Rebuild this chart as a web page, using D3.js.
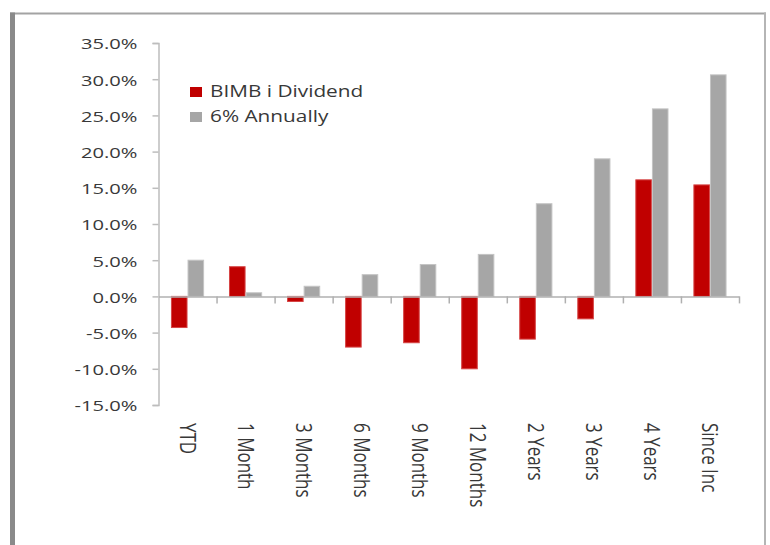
<!DOCTYPE html>
<html>
<head>
<meta charset="utf-8">
<script src="https://cdn.jsdelivr.net/npm/d3@7"></script>
<style>
  body { margin: 0; background: #fff; }
  text { font-family: "Open Sans", sans-serif; fill: #383838; }
</style>
</head>
<body>
<div id="chart"></div>
<script>
var categories = ["YTD", "1 Month", "3 Months", "6 Months", "9 Months",
                  "12 Months", "2 Years", "3 Years", "4 Years", "Since Inc"];
var seriesNames = ["BIMB i Dividend", "6% Annually"];
var bimbDividend = [-4.3, 4.1, -0.7, -7.0, -6.4, -10.0, -5.9, -3.1, 16.1, 15.4];
var sixAnnually = [5.0, 0.5, 1.4, 3.0, 4.4, 5.8, 12.8, 19.0, 25.9, 30.6];
var yTicks = [-15, -10, -5, 0, 5, 10, 15, 20, 25, 30, 35];

var width = 770,
    height = 545,
    plot = {left: 158.5, right: 739, top: 43, bottom: 405},
    color = ["#c00000", "#a6a6a6"],
    edge = ["#d64545", "#c4c4c4"];

var rows = categories.map(function(c, i) {
  return {cat: c, values: [bimbDividend[i], sixAnnually[i]]};
});

var svg = d3.select("#chart").append("svg")
    .attr("width", width)
    .attr("height", height);

// outer frame of the pasted chart
svg.append("line").attr("x1", 10).attr("x2", 766).attr("y1", 13.5).attr("y2", 13.5)
    .attr("stroke", "#a3a3a3").attr("stroke-width", 2);
svg.append("line").attr("x1", 12.5).attr("x2", 12.5).attr("y1", 12.5).attr("y2", height)
    .attr("stroke", "#8a8a8a").attr("stroke-width", 5);
svg.append("line").attr("x1", 765).attr("x2", 765).attr("y1", 12.5).attr("y2", height)
    .attr("stroke", "#b5b5b5").attr("stroke-width", 2);

var x = d3.scaleBand()
    .domain(categories)
    .range([plot.left, plot.right]);

var xs = d3.scaleBand()
    .domain(seriesNames)
    .range([0, x.bandwidth()])
    .paddingOuter(0.75);

var xEdge = d3.scaleLinear()
    .domain([0, categories.length])
    .range([plot.left, plot.right]);

var y = d3.scaleLinear()
    .domain([yTicks[0], yTicks[yTicks.length - 1]])
    .range([plot.bottom, plot.top]);

// bars
var groups = svg.append("g").selectAll("g")
  .data(rows).enter()
  .append("g")
    .attr("transform", function(d) { return "translate(" + x(d.cat) + ",0)"; });

groups.selectAll("rect")
  .data(function(d) { return d.values; })
  .enter().append("rect")
    .attr("x", function(d, i) { return xs(seriesNames[i]) + 0.5; })
    .attr("width", xs.bandwidth() - 1)
    .attr("y", function(d) { return y(Math.max(0, d)); })
    .attr("height", function(d) { return Math.abs(y(d) - y(0)); })
    .attr("fill", function(d, i) { return color[i]; })
    .attr("stroke", function(d, i) { return edge[i]; })
    .attr("stroke-width", 1);

// y axis
var yAxis = svg.append("g")
    .attr("class", "axis y")
    .attr("transform", "translate(" + plot.left + ",0)")
    .call(d3.axisLeft(y)
      .tickValues(yTicks)
      .tickSize(6)
      .tickFormat(function(d) { return d.toFixed(1) + "%"; }));
yAxis.select(".domain").attr("stroke", "#bdbdbd").attr("stroke-width", 1.5);
yAxis.selectAll(".tick line").attr("stroke", "#bdbdbd").attr("stroke-width", 1.5);
yAxis.selectAll(".tick text")
    .attr("x", null)
    .attr("dy", "0.42em")
    .attr("transform", "translate(-21,0) scale(1.44,1)")
    .style("font-family", "'Open Sans', sans-serif")
    .style("font-size", "14px")
    .attr("fill", "#383838");

// x axis: zero line with ticks at category boundaries
var xAxis = svg.append("g")
    .attr("class", "axis x")
    .attr("transform", "translate(0," + y(0) + ")")
    .call(d3.axisBottom(xEdge)
      .tickValues(d3.range(categories.length + 1).slice(1))
      .tickSize(7)
      .tickSizeOuter(0)
      .tickFormat(""));
xAxis.select(".domain").attr("stroke", "#b0b0b0").attr("stroke-width", 1.5);
xAxis.selectAll(".tick line").attr("stroke", "#b0b0b0").attr("stroke-width", 1.5);

// category labels, rotated, below the plot
svg.append("g").selectAll("text")
  .data(categories).enter()
  .append("text")
    .attr("transform", function(d) {
      return "translate(" + (x(d) + x.bandwidth() / 2) + ",423) scale(1.3,1) rotate(90)";
    })
    .attr("dy", "0.35em")
    .style("font-size", "17px")
    .text(function(d) { return d; });

// legend
var legend = svg.append("g")
    .attr("class", "legend")
    .attr("transform", "translate(190,87)");
var item = legend.selectAll("g")
  .data(seriesNames).enter()
  .append("g")
    .attr("transform", function(d, i) { return "translate(0," + (i * 25) + ")"; });
item.append("rect")
    .attr("width", 12)
    .attr("height", 10)
    .attr("fill", function(d, i) { return color[i]; });
item.append("text")
    .attr("transform", "translate(20,10) scale(1.3,1)")
    .style("font-size", "16px")
    .text(function(d) { return d; });
</script>
</body>
</html>
